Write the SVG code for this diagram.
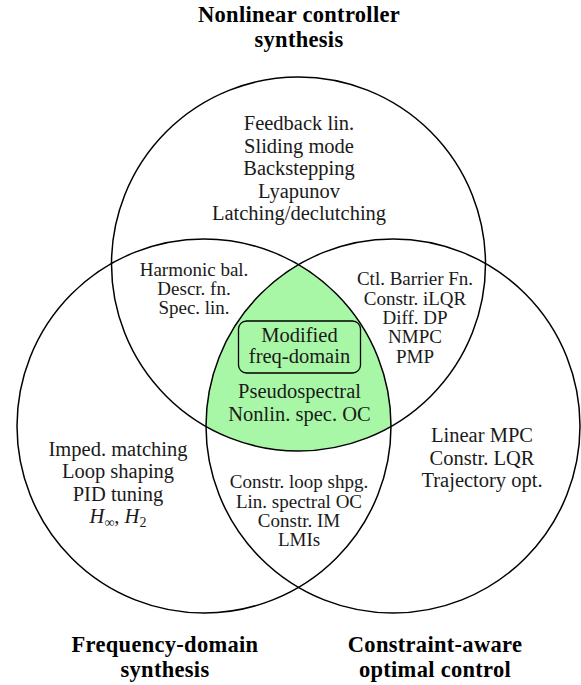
<svg xmlns="http://www.w3.org/2000/svg" width="581" height="685" viewBox="0 0 581 685">
  <style>
    .ring { fill: none; stroke: #000; stroke-width: 1.5; }
    .core { fill: #a8f7a6; stroke: none; }
    .box { fill: none; stroke: #000; stroke-width: 1.3; }
    .t { font-family: "Liberation Serif", "Times New Roman", serif; font-size: 20.5px; fill: #1a1a1a; text-anchor: middle; }
    .s { font-family: "Liberation Serif", "Times New Roman", serif; font-size: 19px; fill: #1a1a1a; text-anchor: middle; }
    .h { font-family: "Liberation Serif", "Times New Roman", serif; font-size: 22.5px; font-weight: bold; letter-spacing: 0.3px; fill: #000; text-anchor: middle; }
  </style>

  <!-- triple overlap region -->
  <g id="core-region">
    <path class="core" d="M 298.5 264.6 A 187 187 0 0 1 391 426.5 A 187 187 0 0 1 206 426.5 A 187 187 0 0 1 298.5 264.6 Z"/>
  </g>

  <!-- the three sets -->
  <g id="set-nonlinear">
    <circle class="ring" cx="298.5" cy="264" r="187"/>
    <text class="h" x="299" y="22">Nonlinear controller</text>
    <text class="h" x="299" y="47">synthesis</text>
    <text class="t" x="299" y="130">Feedback lin.</text>
    <text class="t" x="299" y="152.5">Sliding mode</text>
    <text class="t" x="299" y="175">Backstepping</text>
    <text class="t" x="299" y="197.5">Lyapunov</text>
    <text class="t" x="299" y="220">Latching/declutching</text>
  </g>

  <g id="set-frequency">
    <circle class="ring" cx="204" cy="426" r="187"/>
    <text class="h" x="165" y="652">Frequency-domain</text>
    <text class="h" x="165" y="677">synthesis</text>
    <text class="t" x="118" y="456">Imped. matching</text>
    <text class="t" x="118" y="478">Loop shaping</text>
    <text class="t" x="118" y="500.5">PID tuning</text>
    <text class="t" x="118" y="523"><tspan font-style="italic">H</tspan><tspan font-size="14" dy="4">∞</tspan><tspan dy="-4">, </tspan><tspan font-style="italic">H</tspan><tspan font-size="14" dy="4">2</tspan></text>
  </g>

  <g id="set-constraint">
    <circle class="ring" cx="393" cy="426" r="187"/>
    <text class="h" x="435" y="652">Constraint-aware</text>
    <text class="h" x="435" y="677">optimal control</text>
    <text class="t" x="482" y="442">Linear MPC</text>
    <text class="t" x="482" y="464.5">Constr. LQR</text>
    <text class="t" x="482" y="487">Trajectory opt.</text>
  </g>

  <!-- pairwise overlaps -->
  <g id="overlap-nonlinear-frequency">
    <text class="s" x="194" y="276">Harmonic bal.</text>
    <text class="s" x="194" y="295">Descr. fn.</text>
    <text class="s" x="194" y="314">Spec. lin.</text>
  </g>

  <g id="overlap-nonlinear-constraint">
    <text class="s" x="415" y="285">Ctl. Barrier Fn.</text>
    <text class="s" x="415" y="304.5">Constr. iLQR</text>
    <text class="s" x="415" y="324">Diff. DP</text>
    <text class="s" x="415" y="343">NMPC</text>
    <text class="s" x="415" y="362.5">PMP</text>
  </g>

  <g id="overlap-frequency-constraint">
    <text class="s" x="299" y="488">Constr. loop shpg.</text>
    <text class="s" x="299" y="507.5">Lin. spectral OC</text>
    <text class="s" x="299" y="527">Constr. IM</text>
    <text class="s" x="299" y="546">LMIs</text>
  </g>

  <!-- centre of all three -->
  <g id="modified-freq-domain">
    <rect class="box" x="238.5" y="321" width="122" height="52" rx="8" ry="8"/>
    <text class="t" x="299.5" y="341.5">Modified</text>
    <text class="t" x="299.5" y="363">freq-domain</text>
  </g>

  <g id="core-methods">
    <text class="t" x="299.5" y="398">Pseudospectral</text>
    <text class="t" x="299.5" y="421">Nonlin. spec. OC</text>
  </g>
</svg>
